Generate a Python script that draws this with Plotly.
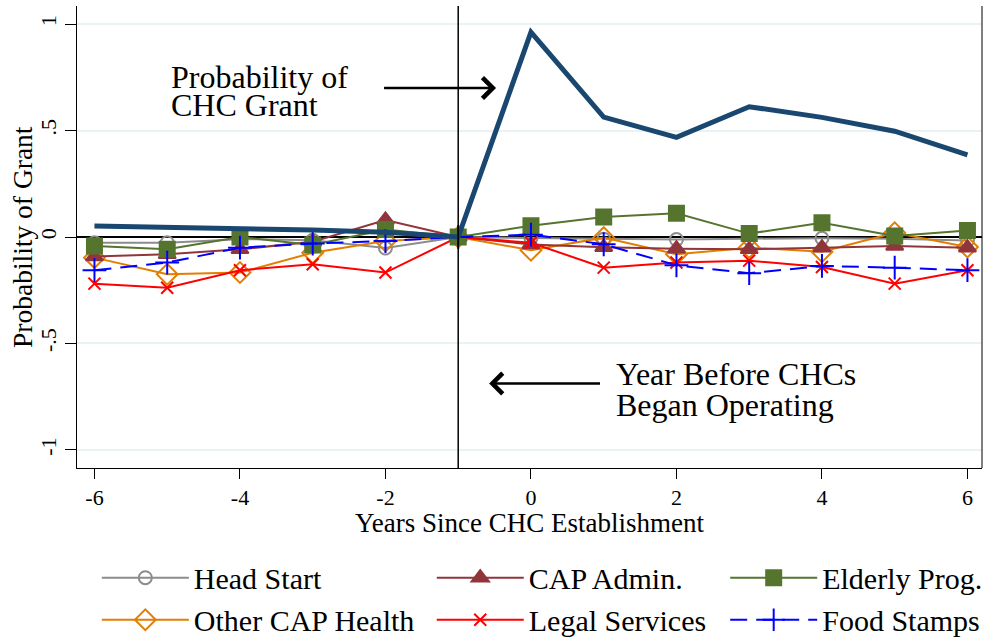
import plotly.graph_objects as go

years = [-6, -5, -4, -3, -2, -1, 0, 1, 2, 3, 4, 5, 6]

chc_grant = [0.052, 0.046, 0.040, 0.033, 0.022, 0.0, 0.962, 0.563, 0.468, 0.612, 0.562, 0.497, 0.386]
head_start = [-0.027, -0.027, -0.010, -0.015, -0.052, 0.0, -0.005, -0.010, -0.012, -0.008, -0.006, -0.008, -0.017]
cap_admin = [-0.092, -0.081, -0.058, -0.022, 0.080, 0.0, -0.035, -0.048, -0.055, -0.058, -0.050, -0.042, -0.050]
elderly = [-0.042, -0.058, 0.0, -0.038, 0.035, 0.0, 0.053, 0.094, 0.111, 0.016, 0.067, 0.005, 0.030]
other_cap = [-0.097, -0.175, -0.167, -0.074, -0.019, 0.0, -0.062, -0.003, -0.081, -0.050, -0.069, 0.020, -0.047]
legal = [-0.219, -0.238, -0.156, -0.128, -0.167, 0.0, -0.027, -0.144, -0.120, -0.111, -0.141, -0.219, -0.156]
food_stamps = [-0.156, -0.120, -0.050, -0.031, -0.019, 0.0, 0.011, -0.034, -0.133, -0.170, -0.136, -0.144, -0.156]

x_ticks = [-6, -4, -2, 0, 2, 4, 6]
x_labels = ['-6', '-4', '-2', '0', '2', '4', '6']
y_ticks = [-1, -0.5, 0, 0.5, 1]
y_labels = ['-1', '-.5', '0', '.5', '1']

serif = 'Liberation Serif'

fig = go.Figure()


def add_series(name, y, color, symbol, size, legend, dash='solid'):
    marker = dict(symbol=symbol, size=size, color=color,
                  line=dict(color=color, width=2))
    fig.add_trace(go.Scatter(x=years, y=y, name=name, mode='lines+markers',
                             line=dict(color=color, width=2, dash=dash),
                             marker=marker, legend=legend))


# drawn bottom to top roughly as in the original
add_series('Head Start', head_start, '#8c8c8c', 'circle-open', 13, 'legend')
add_series('Other CAP Health', other_cap, '#e37e00', 'diamond-open', 16, 'legend')
add_series('CAP Admin.', cap_admin, '#90353b', 'triangle-up', 15, 'legend2')
add_series('Legal Services', legal, '#ff0000', 'x-thin-open', 12, 'legend2')
add_series('Elderly Prog.', elderly, '#55752f', 'square', 15, 'legend3')
add_series('Food Stamps', food_stamps, '#0000ff', 'cross-thin-open', 17, 'legend3',
           dash='17px,9px')

fig.add_trace(go.Scatter(x=years, y=chc_grant, name='CHC Grant', mode='lines',
                         line=dict(color='#1a476f', width=5), showlegend=False))

fig.add_vline(x=-1, line=dict(color='black', width=1.5))
fig.add_shape(type='line', xref='paper', yref='paper', x0=1, x1=1, y0=0, y1=1,
              line=dict(color='black', width=1))

# text labels and arrows
notes = [
    ('Probability of', -4.97, 0.753),
    ('CHC Grant', -4.97, 0.618),
    ('Year Before CHCs', 1.14, -0.645),
    ('Began Operating', 1.14, -0.79),
]
for txt, xx, yy in notes:
    fig.add_annotation(x=xx, y=yy, text=txt, showarrow=False, xanchor='left',
                       yanchor='middle', font=dict(family=serif, size=32, color='black'))

fig.add_annotation(x=-0.48, y=0.70, ax=-2.04, ay=0.70, axref='x', ayref='y',
                   text='', showarrow=True, arrowhead=4, arrowsize=1.6,
                   arrowwidth=2.5, arrowcolor='black')
fig.add_annotation(x=-0.575, y=-0.688, ax=0.97, ay=-0.688, axref='x', ayref='y',
                   text='', showarrow=True, arrowhead=4, arrowsize=1.6,
                   arrowwidth=2.5, arrowcolor='black')

# axis titles
fig.add_annotation(text='Probability of Grant', xref='paper', yref='paper',
                   x=0, y=0.5, xshift=-55, textangle=-90, showarrow=False,
                   xanchor='center', yanchor='middle',
                   font=dict(family=serif, size=27.5, color='black'))
fig.add_annotation(text='Years Since CHC Establishment', xref='paper', yref='paper',
                   x=0.5, y=0, yshift=-55, showarrow=False,
                   xanchor='center', yanchor='middle',
                   font=dict(family=serif, size=27, color='black'))

legend_style = dict(orientation='v', font=dict(family=serif, size=30, color='black'),
                    xref='container', yref='container', yanchor='top', xanchor='left',
                    bgcolor='rgba(0,0,0,0)', itemwidth=87, tracegroupgap=0)

fig.update_layout(
    width=988, height=643,
    margin=dict(l=77, r=6, t=6, b=175, autoexpand=False),
    plot_bgcolor='white', paper_bgcolor='white',
    font=dict(family=serif, color='black'),
    legend=dict(legend_style, x=0.098, y=0.142),
    legend2=dict(legend_style, x=0.437, y=0.142),
    legend3=dict(legend_style, x=0.734, y=0.142),
    xaxis=dict(
        range=[-6.24, 6.2], tickvals=x_ticks, ticktext=x_labels,
        ticks='outside', ticklen=10,
        tickcolor='black', showgrid=False, zeroline=False,
        showline=True, linecolor='black', linewidth=1,
        tickfont=dict(family=serif, size=22),
    ),
    yaxis=dict(
        range=[-1.085, 1.085], tickvals=y_ticks, ticktext=y_labels, tickangle=-90,
        ticks='outside', ticklen=11, tickcolor='black',
        showgrid=True, gridcolor='#eaf2f3', gridwidth=1.5,
        zeroline=True, zerolinecolor='black', zerolinewidth=1.5,
        showline=True, linecolor='black', linewidth=1,
        tickfont=dict(family=serif, size=22),
    ),
)

fig.write_html("out.html", config={'displayModeBar': False},
               post_script="document.body.style.margin='0';")
